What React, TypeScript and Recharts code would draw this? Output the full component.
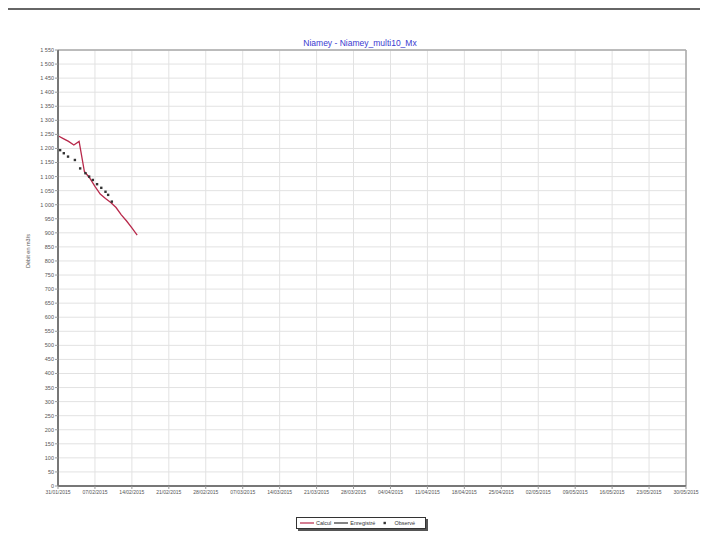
import React from "react";
import {
  ComposedChart,
  Line,
  Scatter,
  XAxis,
  YAxis,
  CartesianGrid,
  ReferenceLine,
} from "recharts";

// jours depuis le 31/01/2015
const calculDays = [0, 1, 2, 3, 4, 5, 6, 7, 8, 9, 10, 11, 12, 13, 14, 15];
const calculValues = [1245, 1235, 1225, 1212, 1225, 1118, 1095, 1065, 1038, 1022, 1008, 990, 964, 942, 918, 892];

const observeDays = [0.4, 1.1, 1.9, 3.2, 4.2, 5.2, 5.9, 6.6, 7.4, 8.2, 9.0, 9.5, 10.2];
const observeValues = [1194, 1183, 1171, 1159, 1129, 1112, 1100, 1088, 1073, 1060, 1046, 1035, 1011];

const xTicks = [0, 7, 14, 21, 28, 35, 42, 49, 56, 63, 70, 77, 84, 91, 98, 105, 112, 119];
const xTickLabels = [
  "31/01/2015", "07/02/2015", "14/02/2015", "21/02/2015", "28/02/2015", "07/03/2015",
  "14/03/2015", "21/03/2015", "28/03/2015", "04/04/2015", "11/04/2015", "18/04/2015",
  "25/04/2015", "02/05/2015", "09/05/2015", "16/05/2015", "23/05/2015", "30/05/2015",
];

const yTicks = [
  0, 50, 100, 150, 200, 250, 300, 350, 400, 450, 500, 550, 600, 650, 700, 750,
  800, 850, 900, 950, 1000, 1050, 1100, 1150, 1200, 1250, 1300, 1350, 1400, 1450, 1500, 1550,
];

const legendItems = [
  { name: "Calcul", color: "#b8284a", kind: "line" },
  { name: "Enregistré", color: "#333333", kind: "line" },
  { name: "Observé", color: "#333333", kind: "dot" },
];

const calculData = calculDays.map((d, i) => ({ day: d, calcul: calculValues[i] }));
const observeData = observeDays.map((d, i) => ({ day: d, observe: observeValues[i] }));

const fmtY = (v: number) => (v >= 1000 ? `${Math.floor(v / 1000)} ${String(v % 1000).padStart(3, "0")}` : String(v));
const fmtX = (v: number) => xTickLabels[xTicks.indexOf(v)] ?? "";

const SquareDot = (props: any) => {
  const { cx, cy } = props;
  if (cx == null || cy == null) return null;
  return <rect x={cx - 1.2} y={cy - 1.2} width={2.4} height={2.4} fill="#333" />;
};

const ChartLegend = () => (
  <div
    style={{
      position: "absolute",
      left: 296,
      top: 517,
      width: 125,
      height: 10,
      border: "1px solid #333",
      boxShadow: "2px 2px 0 #555",
      background: "#fff",
      display: "flex",
      alignItems: "center",
      fontSize: 5.5,
      color: "#333",
      paddingLeft: 3,
      gap: 3,
    }}
  >
    {legendItems.map((it) => (
      <span key={it.name} style={{ display: "flex", alignItems: "center", gap: 2 }}>
        <svg width={14} height={6}>
          {it.kind === "line" ? (
            <line x1={0} y1={3} x2={14} y2={3} stroke={it.color} strokeWidth={1.2} />
          ) : (
            <rect x={5.5} y={1.8} width={2.4} height={2.4} fill={it.color} />
          )}
        </svg>
        {it.name}
      </span>
    ))}
  </div>
);

export default function App() {
  return (
    <div
      style={{
        position: "relative",
        margin: -8,
        width: 708,
        height: 554,
        background: "#fff",
        fontFamily: "'Liberation Sans', Arial, sans-serif",
        overflow: "hidden",
      }}
    >
      <div style={{ position: "absolute", left: 0, top: 8, width: 708, height: 2, background: "#666" }} />
      <div style={{ position: "absolute", left: 0, top: 548, width: 700, height: 1, background: "#ccc" }} />
      <div
        style={{
          position: "absolute",
          left: 260,
          top: 38,
          width: 200,
          textAlign: "center",
          fontSize: 8.5,
          color: "#3a3ad0",
        }}
      >
        Niamey - Niamey_multi10_Mx
      </div>
      <ComposedChart
        width={708}
        height={554}
        margin={{ top: 50, right: 22, bottom: 48, left: 0 }}
        style={{ position: "absolute", left: 0, top: 0 }}
      >
        <CartesianGrid stroke="#e2e2e2" strokeWidth={1} />
        <XAxis
          dataKey="day"
          type="number"
          domain={[0, 119]}
          ticks={xTicks}
          tickFormatter={fmtX}
          interval={0}
          height={20}
          tick={{ fontSize: 5, fill: "#555" }}
          tickSize={3}
          tickMargin={1}
          axisLine={{ stroke: "#777", strokeWidth: 2 }}
          tickLine={{ stroke: "#999" }}
          allowDuplicatedCategory={false}
        />
        <YAxis
          type="number"
          domain={[0, 1550]}
          ticks={yTicks}
          tickFormatter={fmtY}
          interval={0}
          width={58}
          tick={{ fontSize: 5.5, fill: "#555" }}
          tickSize={3}
          tickMargin={1}
          axisLine={{ stroke: "#777", strokeWidth: 2 }}
          tickLine={{ stroke: "#999" }}
          label={{ value: "Débit en m3/s", angle: -90, position: "insideLeft", offset: 28, fontSize: 5.5, fill: "#555" }}
        />
        <ReferenceLine y={1550} stroke="#aaa" strokeWidth={1.5} />
        <ReferenceLine x={119} stroke="#aaa" strokeWidth={1.5} />
        <Line
          data={calculData}
          dataKey="calcul"
          stroke="#b8284a"
          strokeWidth={1.3}
          dot={false}
          isAnimationActive={false}
        />
        <Scatter
          data={observeData}
          dataKey="observe"
          shape={<SquareDot />}
          isAnimationActive={false}
        />
      </ComposedChart>
      <ChartLegend />
    </div>
  );
}
